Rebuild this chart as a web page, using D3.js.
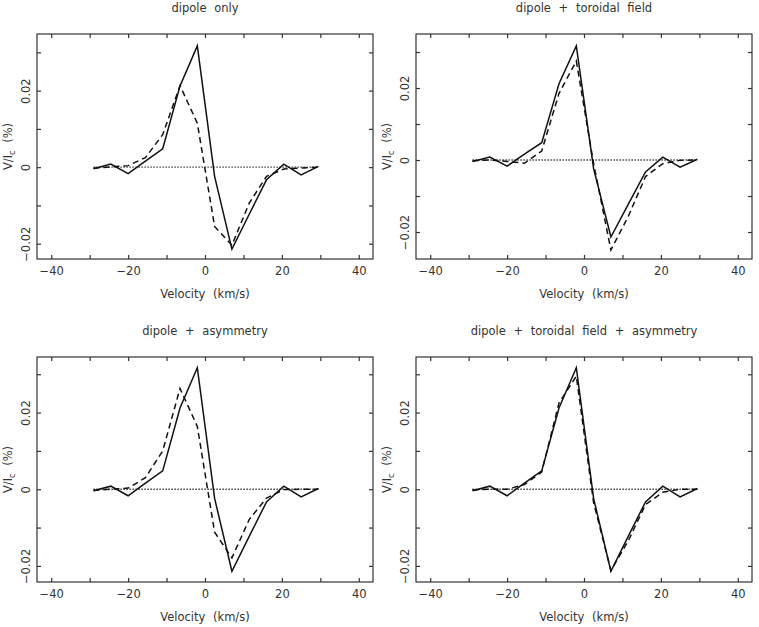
<!DOCTYPE html>
<html>
<head>
<meta charset="utf-8">
<script src="https://cdn.jsdelivr.net/npm/d3@7"></script>
<style>
  body { margin: 0; background: #fff; }
  svg { display: block; }
  text { font-family: "DejaVu Sans", sans-serif; fill: #333; }
</style>
</head>
<body>
<script>
// velocity grid (km/s)
const velocity = [-29, -24.5, -20, -15.5, -11, -6.5, -2, 2.5, 7, 11.5, 16, 20.5, 25, 29.5];

// observed Stokes V (solid line, same in all panels)
const observed = [-0.0004, 0.0008, -0.0017, 0.0016, 0.0048, 0.0212, 0.0317, -0.0024, -0.0214, -0.0123, -0.0033, 0.0008, -0.0020, 0.0002];

// model profiles (dashed lines)
const dipoleOnly = [-0.0003, 0.0001, 0.0004, 0.0025, 0.0085, 0.0213, 0.0115, -0.0155, -0.0204, -0.0094, -0.0024, -0.0005, -0.0002, 0];
const dipoleToroidal = [-0.0002, 0, -0.0004, -0.0009, 0.0025, 0.0185, 0.0275, -0.0010, -0.0250, -0.0157, -0.0046, -0.0010, -0.0001, 0];
const dipoleAsym = [-0.0003, 0, 0.0003, 0.0030, 0.0100, 0.0263, 0.0164, -0.0112, -0.0179, -0.0079, -0.0023, -0.0001, 0, 0];
const dipoleToroidalAsym = [-0.0002, 0, 0, 0.0012, 0.0045, 0.0225, 0.0295, -0.0035, -0.0212, -0.0135, -0.0040, -0.0008, 0, 0];

const titles = ["dipole only", "dipole + toroidal field", "dipole + asymmetry", "dipole + toroidal field + asymmetry"];
const models = [dipoleOnly, dipoleToroidal, dipoleAsym, dipoleToroidalAsym];

const xTicks = [-40, -30, -20, -10, 0, 10, 20, 30, 40];
const xTickLabels = [-40, -20, 0, 20, 40];
const yTicks = [-0.02, -0.01, 0, 0.01, 0.02, 0.03];
const yTickLabels = [-0.02, 0, 0.02];

var width = 759, height = 627;
var svg = d3.select("body").append("svg")
  .attr("width", width)
  .attr("height", height);

// panel frames and y ranges
var panels = [
  { left: 37, top: 34, yDomain: [-0.024, 0.0348] },
  { left: 416, top: 34, yDomain: [-0.0275, 0.035] },
  { left: 37, top: 357, yDomain: [-0.0242, 0.0345] },
  { left: 416, top: 357, yDomain: [-0.0242, 0.0345] }
];
var pw = 336, ph = 225;

function fmt(v, digits) {
  if (Math.abs(v) < 1e-9) return "0";
  return (v < 0 ? "\u2212" : "") + Math.abs(v).toFixed(digits);
}

panels.forEach(function (p, i) {
  var g = svg.append("g").attr("transform", "translate(" + p.left + "," + p.top + ")");

  var x = d3.scaleLinear().domain([-43.7, 43.7]).range([0, pw]);
  var y = d3.scaleLinear().domain(p.yDomain).range([ph, 0]);

  // frame
  g.append("rect")
    .attr("width", pw).attr("height", ph)
    .attr("fill", "none").attr("stroke", "#333").attr("stroke-width", 1.2);

  // axes, ticks pointing inward
  g.append("g").attr("transform", "translate(0," + ph + ")")
    .call(d3.axisBottom(x).tickValues(xTicks).tickSize(-4).tickPadding(8)
      .tickFormat(function (d) { return xTickLabels.indexOf(d) >= 0 ? fmt(d, 0) : ""; }));
  g.append("g").call(d3.axisTop(x).tickValues(xTicks).tickSize(-4).tickFormat(""));
  var left = g.append("g")
    .call(d3.axisLeft(y).tickValues(yTicks).tickSize(-4)
      .tickFormat(function (d) { return yTickLabels.some(function (t) { return Math.abs(t - d) < 1e-9; }) ? fmt(d, 2) : ""; }));
  g.append("g").attr("transform", "translate(" + pw + ",0)")
    .call(d3.axisRight(y).tickValues(yTicks).tickSize(-4).tickFormat(""));

  g.selectAll(".domain").remove();
  g.selectAll(".tick line").attr("stroke", "#333").attr("stroke-width", 1.2);
  g.selectAll(".tick text").style("font-size", "11.5px").style("font-family", "DejaVu Sans").attr("fill", "#333");

  left.selectAll(".tick text")
    .attr("transform", "rotate(-90)")
    .attr("x", 0).attr("y", -7.5).attr("dy", 0)
    .attr("text-anchor", "middle");

  // zero reference line
  g.append("line")
    .attr("x1", x(velocity[0])).attr("x2", x(velocity[velocity.length - 1]))
    .attr("y1", y(0)).attr("y2", y(0))
    .attr("stroke", "#111").attr("stroke-width", 1.4)
    .attr("stroke-dasharray", "1.2,1.8");

  var line = d3.line()
    .x(function (d, j) { return x(velocity[j]); })
    .y(function (d) { return y(d); });

  g.append("path").datum(observed)
    .attr("d", line)
    .attr("fill", "none").attr("stroke", "#111").attr("stroke-width", 1.5);

  g.append("path").datum(models[i])
    .attr("d", line)
    .attr("fill", "none").attr("stroke", "#111").attr("stroke-width", 1.5)
    .attr("stroke-dasharray", "6,4");

  // title
  g.append("text")
    .attr("x", pw / 2).attr("y", -22)
    .attr("text-anchor", "middle")
    .style("font-size", "11.5px").style("word-spacing", "4px")
    .text(titles[i]);

  // x label
  g.append("text")
    .attr("x", pw / 2).attr("y", ph + 39)
    .attr("text-anchor", "middle")
    .style("font-size", "11.5px").style("word-spacing", "4px")
    .text("Velocity (km/s)");

  // y label
  var yl = g.append("text")
    .attr("transform", "translate(-25," + (ph / 2) + ") rotate(-90)")
    .attr("text-anchor", "middle")
    .style("font-size", "11.5px").style("word-spacing", "4px");
  yl.append("tspan").text("V/I");
  yl.append("tspan").attr("dy", 3).style("font-size", "8px").text("c");
  yl.append("tspan").attr("dy", -3).text(" (%)");
});
</script>
</body>
</html>
